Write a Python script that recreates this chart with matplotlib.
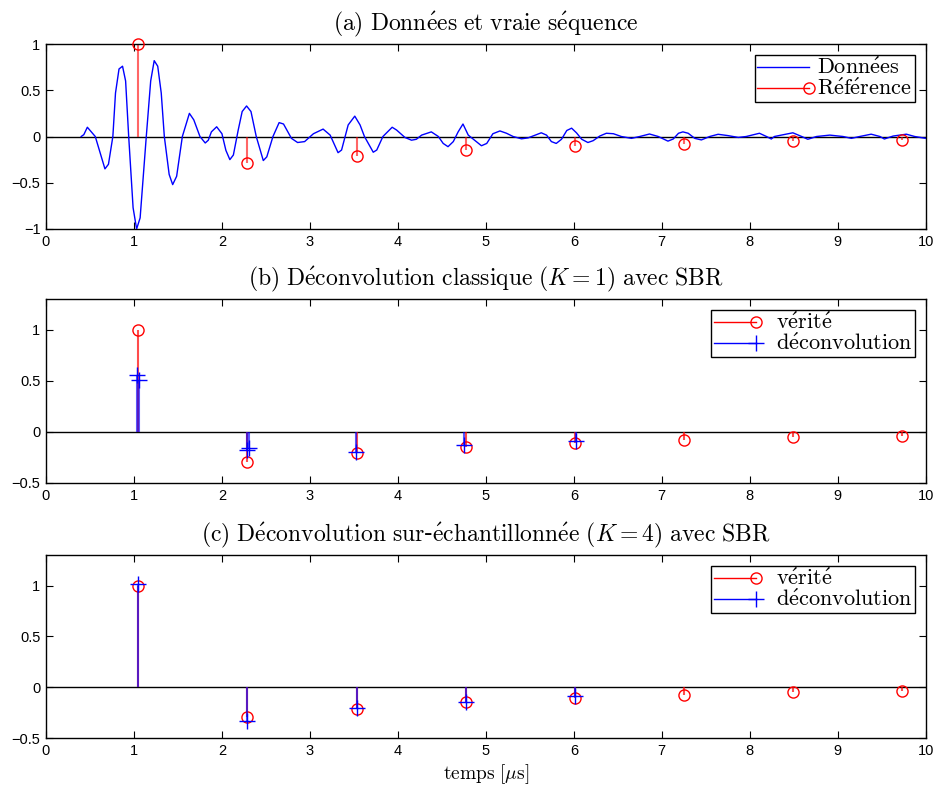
import numpy as np
import matplotlib
matplotlib.use("Agg")
import matplotlib.pyplot as plt
from matplotlib.lines import Line2D
from matplotlib.legend_handler import HandlerLine2D

plt.rcParams['mathtext.fontset'] = 'cm'

# ---- data ----
truth_t = [1.05, 2.29, 3.53, 4.77, 6.01, 7.25, 8.49, 9.73]
truth_v = [1.0, -0.29, -0.21, -0.145, -0.105, -0.078, -0.052, -0.036]

data_t = [0.40, 0.43, 0.47, 0.56, 0.67, 0.71, 0.76, 0.79, 0.83, 0.87, 0.905, 0.94, 0.99,
          1.03, 1.07, 1.14, 1.19, 1.23, 1.27, 1.31, 1.345, 1.40, 1.44, 1.485, 1.55, 1.63,
          1.68, 1.75, 1.81, 1.845, 1.88, 1.94, 2.00, 2.045, 2.09, 2.13, 2.185, 2.23, 2.28,
          2.33, 2.39, 2.47, 2.51, 2.58, 2.65, 2.70, 2.79, 2.86, 2.94, 3.04, 3.15, 3.23,
          3.32, 3.36, 3.435, 3.51, 3.57, 3.62, 3.72, 3.76, 3.83, 3.935, 3.985, 4.08, 4.155,
          4.21, 4.27, 4.38, 4.46, 4.515, 4.57, 4.63, 4.685, 4.74, 4.80, 4.95, 5.01, 5.08,
          5.16, 5.235, 5.31, 5.405, 5.48, 5.56, 5.63, 5.69, 5.745, 5.80, 5.86, 5.92, 5.975,
          6.03, 6.09, 6.16, 6.22, 6.295, 6.37, 6.45, 6.54, 6.655, 6.75, 6.86, 6.96, 7.07,
          7.13, 7.19, 7.24, 7.30, 7.375, 7.45, 7.545, 7.64, 7.75, 7.87, 7.96, 8.11, 8.19,
          8.245, 8.28, 8.49, 8.59, 8.66, 8.76, 8.91, 9.06, 9.155, 9.25, 9.38, 9.48, 9.53,
          9.63, 9.78, 9.875, 10.0]
data_v = [0.0, 0.02, 0.10, 0.0, -0.35, -0.30, 0.0, 0.47, 0.73, 0.76, 0.60, 0.0, -0.77,
          -1.0, -0.88, 0.0, 0.60, 0.82, 0.76, 0.47, 0.0, -0.41, -0.52, -0.43, 0.0, 0.25,
          0.18, 0.0, -0.07, -0.04, 0.05, 0.105, 0.03, -0.15, -0.25, -0.20, 0.07, 0.27, 0.33,
          0.27, 0.0, -0.26, -0.22, 0.0, 0.15, 0.135, -0.02, -0.065, -0.055, 0.03, 0.08, 0.015,
          -0.175, -0.146, 0.125, 0.22, 0.125, 0.0, -0.17, -0.146, 0.0, 0.10, 0.07, -0.01, -0.04,
          -0.03, 0.015, 0.05, 0.0, -0.075, -0.11, -0.055, 0.05, 0.135, 0.015, -0.10, -0.075, 0.03,
          0.06, 0.035, 0.0, -0.025, -0.015, 0.015, 0.04, 0.015, -0.055, -0.075, -0.03, 0.065, 0.09,
          0.04, -0.03, -0.065, -0.045, 0.005, 0.035, 0.03, 0.0, -0.02, 0.0, 0.027, 0.0, -0.05,
          -0.027, 0.035, 0.05, 0.035, -0.02, -0.037, 0.0, 0.024, 0.01, -0.01, 0.0, 0.035, 0.0,
          -0.027, 0.0, 0.04, 0.0, -0.03, 0.0, 0.015, 0.0, -0.02, 0.0, 0.025, 0.0, -0.027,
          0.005, 0.025, 0.0, -0.02]

dec1_t = [1.03, 1.06, 2.28, 2.31, 3.52, 4.755, 6.03]
dec1_v = [0.56, 0.51, -0.18, -0.16, -0.20, -0.13, -0.088]

dec4_t = [1.05, 2.29, 3.53, 4.77, 6.01]
dec4_v = [1.01, -0.33, -0.205, -0.144, -0.088]


def cm(s):
    """Render plain text in Computer Modern via mathtext."""
    s = s.replace(' ', r'\ ').replace('é', r'\acute{e}')
    return r'$\mathrm{' + s + '}$'


titles = [cm('(a) Données et vraie séquence'),
          r'$\mathrm{(b)\ D\acute{e}convolution\ classique\ (}K=1\mathrm{)\ avec\ SBR}$',
          r'$\mathrm{(c)\ D\acute{e}convolution\ sur}$' + '\u2010' +
          r'$\mathrm{\acute{e}chantillonn\acute{e}e\ (}K=4\mathrm{)\ avec\ SBR}$']


class EndMarker(HandlerLine2D):
    def create_artists(self, *args, **kwargs):
        arts = super().create_artists(*args, **kwargs)
        for a in arts:
            if a.get_marker() not in (None, 'None', '', ' '):
                a.set_markevery([2])
        return arts


fig = plt.figure(figsize=(9.34, 7.87), dpi=100)
L, W = 46 / 934, (925.7 - 46) / 934
boxes = [(44, 229), (299, 483), (555, 738)]
axes = []
for (top, bot) in boxes:
    ax = fig.add_axes([L, 1 - bot / 787, W, (bot - top) / 787])
    axes.append(ax)

RED = '#ff0000'
BLUE = '#0000ff'
TFS = 17
LFS = 16

for i, ax in enumerate(axes):
    ax.set_xlim(0, 10)
    ax.set_xticks(range(0, 11))
    ax.axhline(0, color='k', lw=1.0, zorder=1)
    ax.tick_params(direction='in', top=True, right=True, length=5, width=0.8,
                   labelsize=10.5, pad=4)
    for lab in ax.get_xticklabels() + ax.get_yticklabels():
        lab.set_fontfamily('Liberation Sans')
    for s in ax.spines.values():
        s.set_linewidth(1.0)
    ax.set_title(titles[i], fontsize=TFS, pad=10)

# panel a
ax = axes[0]
ax.set_ylim(-1, 1)
ax.set_yticks([-1, -0.5, 0, 0.5, 1])
ax.set_yticklabels(['\u22121', '\u22120.5', '0', '0.5', '1'])
ax.plot(data_t, data_v, color=BLUE, lw=1.0, zorder=3)
ax.vlines(truth_t, 0, truth_v, color=RED, alpha=0.6, lw=1.5, zorder=2)
ax.plot(truth_t, truth_v, 'o', mfc='none', mec=RED, ms=8, mew=1.0, zorder=4, clip_on=False)
h1 = Line2D([], [], color=BLUE, lw=1.0)
h2 = Line2D([], [], color=RED, lw=1.0, marker='o', mfc='none', mec=RED, ms=8)
leg = ax.legend([h1, h2], [cm('Données'), cm('Référence')], loc='upper right',
                handler_map={Line2D: EndMarker()}, prop={'size': LFS},
                frameon=True, fancybox=False, framealpha=1, edgecolor='k',
                handlelength=2.3, handletextpad=0.4, borderpad=0.1, labelspacing=0.0,
                borderaxespad=0.5, numpoints=1)
leg.get_frame().set_linewidth(1.0)

# panels b, c
for ax, dt, dv in [(axes[1], dec1_t, dec1_v), (axes[2], dec4_t, dec4_v)]:
    ax.set_ylim(-0.5, 1.3)
    ax.set_yticks([-0.5, 0, 0.5, 1])
    ax.set_yticklabels(['\u22120.5', '0', '0.5', '1'])
    ax.vlines(truth_t, 0, truth_v, color=RED, alpha=0.7, lw=1.5, zorder=2)
    ax.plot(truth_t, truth_v, 'o', mfc='none', mec=RED, ms=8, mew=1.0, zorder=3)
    ax.vlines(dt, 0, dv, color=BLUE, alpha=0.65, lw=1.5, zorder=4)
    ax.plot(dt, dv, '+', color=BLUE, ms=12, mew=1.0, zorder=5)
    h1 = Line2D([], [], color=RED, lw=1.0, marker='o', mfc='none', mec=RED, ms=8)
    h2 = Line2D([], [], color=BLUE, lw=1.0, marker='+', ms=12)
    leg = ax.legend([h1, h2], [cm('vérité'), cm('déconvolution')], loc='upper right',
                    handler_map={Line2D: EndMarker()}, prop={'size': LFS},
                    frameon=True, fancybox=False, framealpha=1, edgecolor='k',
                    handlelength=1.9, handletextpad=0.9, borderpad=0.1, labelspacing=0.0,
                    borderaxespad=0.5, numpoints=1)
    leg.get_frame().set_linewidth(1.0)

axes[2].set_xlabel(r'$\mathrm{temps\ [}\mu\mathrm{s]}$', fontsize=14, labelpad=3)

fig.savefig('out.png', dpi=100)
